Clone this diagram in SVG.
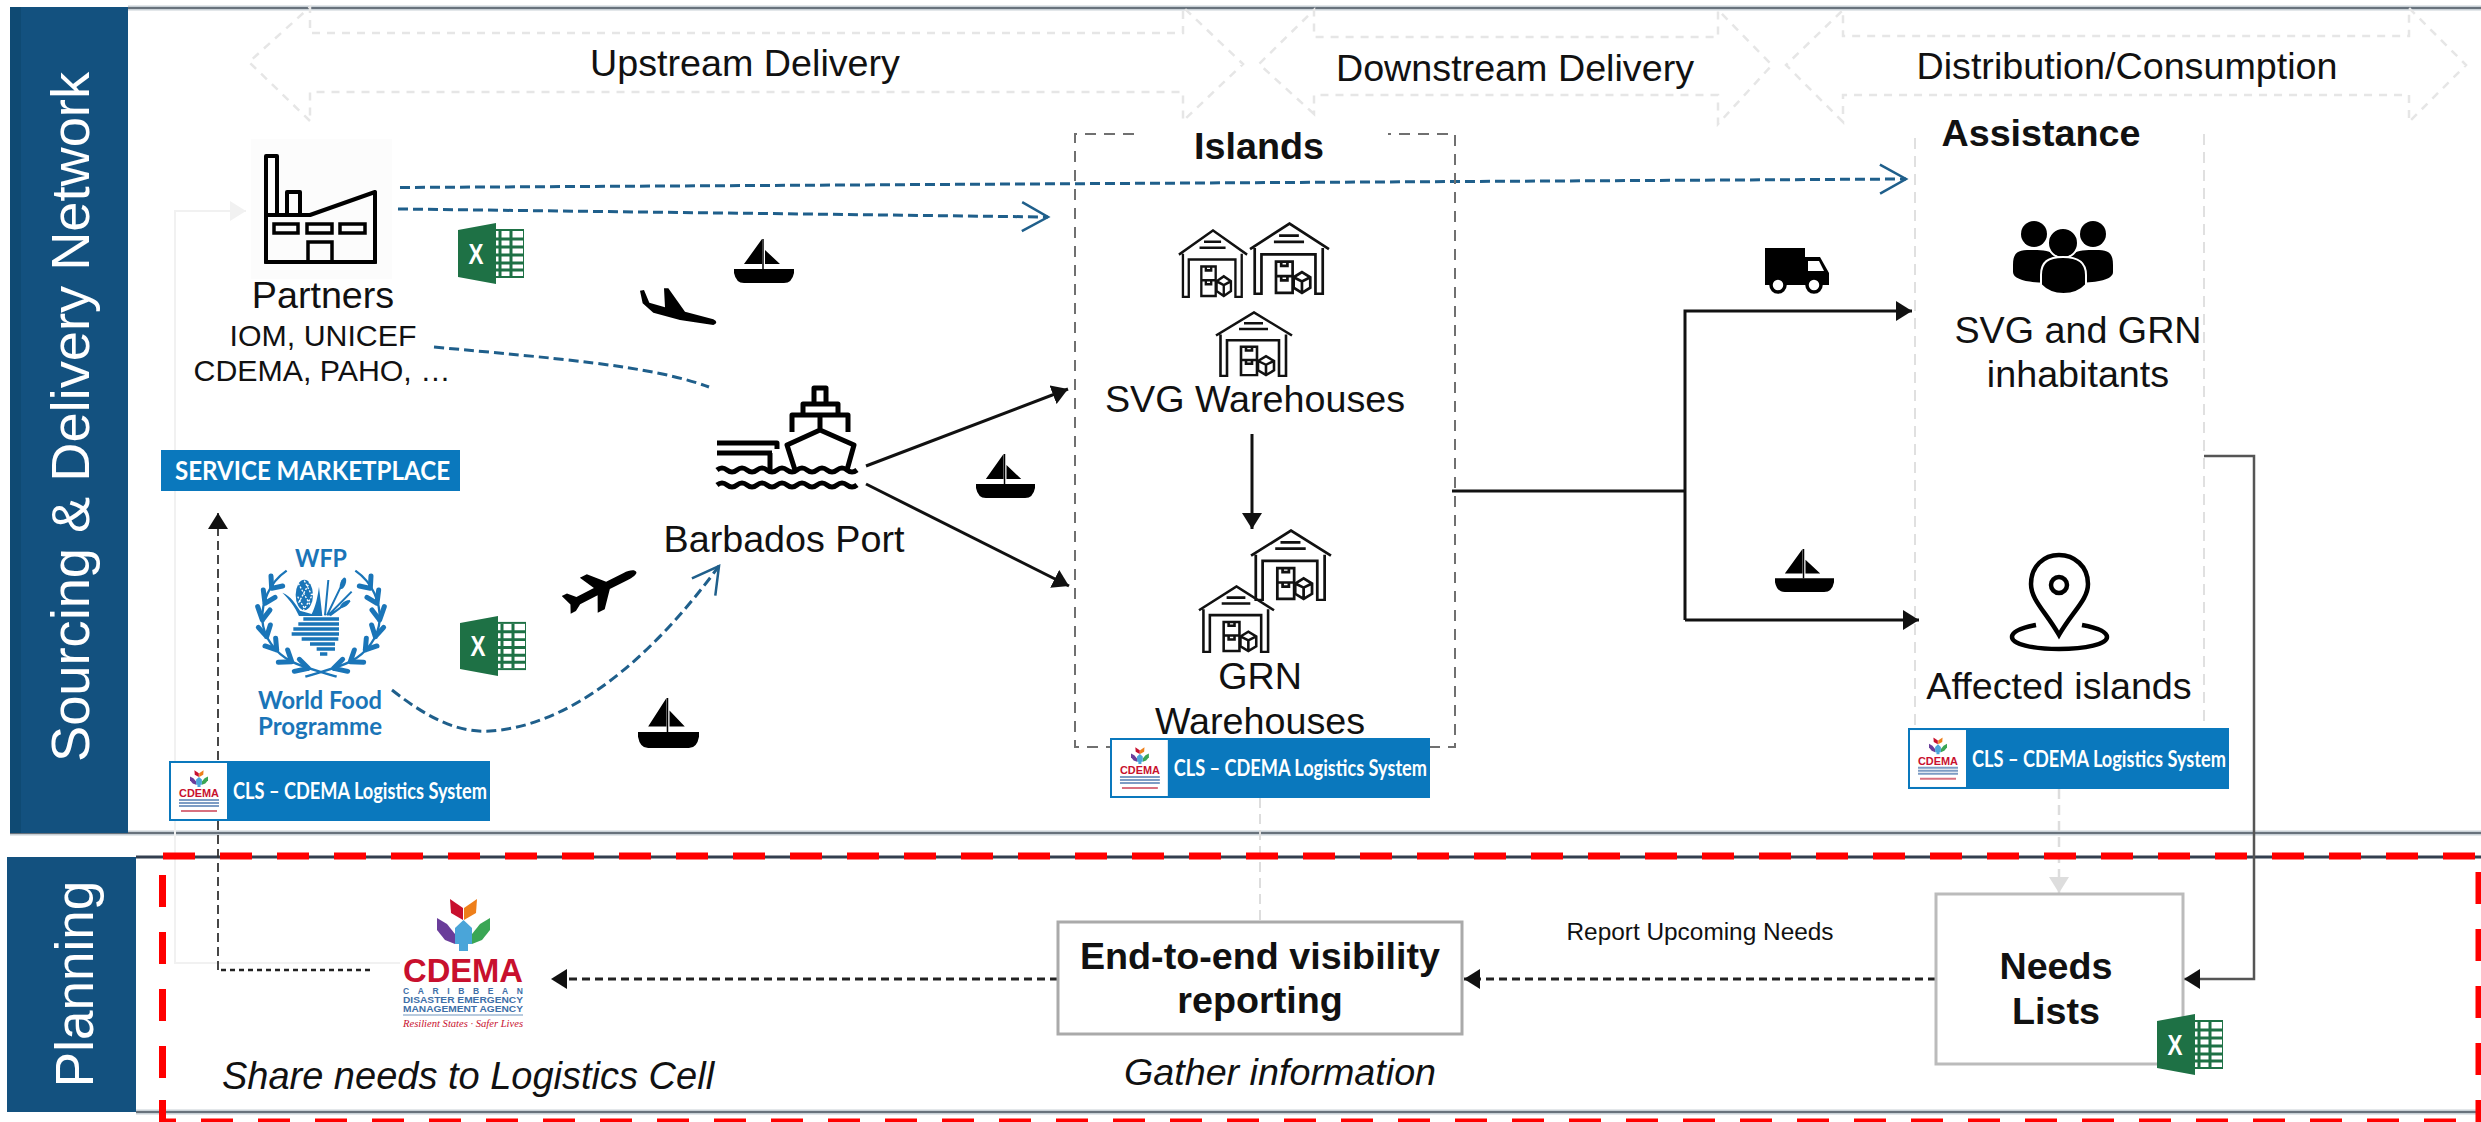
<svg xmlns="http://www.w3.org/2000/svg" width="2481" height="1122" viewBox="0 0 2481 1122">
<style>
text{font-family:"Liberation Sans",Arial,sans-serif;fill:#111}
.t{font-size:37.700px;text-anchor:middle}
.b{font-weight:700}
.i{font-style:italic}
.band{fill:#13517f}
.bandt{fill:#fff;font-size:53px;text-anchor:middle}
.chev{fill:none;stroke:#e6e6e6;stroke-width:2.500;stroke-dasharray:8 7}
.blue{fill:none;stroke:#1f5f8b;stroke-width:3;stroke-dasharray:10 5}
.solid{fill:none;stroke:#111;stroke-width:3}
.dash{fill:none;stroke:#222;stroke-width:3;stroke-dasharray:8 5}
.badge{fill:#0a78bd}
.bt{fill:#fff;font-family:Lato,"Liberation Sans",sans-serif;font-weight:700}
.ic{fill:none;stroke:#111;stroke-width:2.600}
.lg{font-family:"Liberation Sans",sans-serif;font-weight:700}
.wfp{fill:#1a75b8;font-family:Lato,"Liberation Sans",sans-serif;font-weight:700;font-size:24px;text-anchor:middle}
.red{fill:none;stroke:#f00;stroke-width:7;stroke-dasharray:32 25}
.leaf{fill:none;stroke:#1a75b8;stroke-width:15;stroke-linecap:round}
.stem{fill:none;stroke:#1a75b8;stroke-width:7}
</style>
<defs>
<marker id="tri" markerUnits="userSpaceOnUse" viewBox="-16 -10 17 20" markerWidth="17" markerHeight="20" refX="0" refY="0" orient="auto"><path d="M-16,-10 L0,0 L-16,10Z" fill="#111"/></marker>
<marker id="trig" markerUnits="userSpaceOnUse" viewBox="-16 -10 17 20" markerWidth="17" markerHeight="20" refX="0" refY="0" orient="auto"><path d="M-16,-10 L0,0 L-16,10Z" fill="#ddd"/></marker>
<marker id="trif" markerUnits="userSpaceOnUse" viewBox="-16 -10 17 20" markerWidth="17" markerHeight="20" refX="0" refY="0" orient="auto"><path d="M-16,-10 L0,0 L-16,10Z" fill="#f1f1f1"/></marker>
<marker id="chevm" markerUnits="userSpaceOnUse" viewBox="-30 -17 33 34" markerWidth="33" markerHeight="34" refX="0" refY="0" orient="auto"><path d="M-26,-14.500 L0,0 L-26,14.500" fill="none" stroke="#1f5f8b" stroke-width="2.500"/></marker>
<symbol id="boat" viewBox="0 0 60 44" preserveAspectRatio="none"><path d="M28,0 V25 H10Z M31,11 V25 H46Z M0,30 H60 V34 Q58,44 50,44 H10 Q2,44 0,34Z" fill="#000"/><path d="M29,0 V30" stroke="#000" stroke-width="1.500"/></symbol>
<path id="plane" d="M40,1 C40,-3 34,-5 28,-5 L8,-5 L-6,-24 L-14,-24 L-6,-5 L-26,-5 L-33,-14 L-39,-14 L-35,0 L-39,10 L-33,10 L-26,5 L-6,5 L-14,24 L-6,24 L8,5 L28,5 C34,5 40,4 40,1Z" fill="#000"/>
<symbol id="wh" viewBox="0 0 78 70" preserveAspectRatio="none"><path class="ic" d="M1,26 L39,1.500 L77,26 M5.500,25 V69 H12 V31 H64 V69 H71 V25 M29,13 H48 M24,19 H53"/><path class="ic" d="M26,38 H42 V68 H26Z M26,52 H42 M31,38 V42 H37 V38 M31,52 V56 H37 V52"/><path class="ic" d="M43,53 L51,48 L59,53 V63 L51,68 L43,63Z M43,53 L51,57 L59,53 M51,57 V68"/></symbol>
<symbol id="xl" viewBox="0 0 66 61" preserveAspectRatio="none"><rect x="34" y="7" width="32" height="47" fill="#fff" stroke="#1e7145" stroke-width="2"/><path d="M42,8 V53 M34,16 H65 M34,24 H65 M34,32 H65 M34,40 H65 M34,47 H65 M53,8 V53" stroke="#1e7145" stroke-width="3"/><path d="M0,7 L38,0 V61 L0,54Z" fill="#1e7145"/><text x="18" y="41" font-size="30" font-weight="700" text-anchor="middle" textLength="15" lengthAdjust="spacingAndGlyphs" style="fill:#fff">X</text></symbol>
<symbol id="flower" viewBox="0 0 53 53" preserveAspectRatio="none"><path d="M13,1 L26,10 V22 L14,15Z" fill="#c8102e"/><path d="M40,1 L27,10 V22 L39,15Z" fill="#ee7f1a"/><path d="M0,20 L10,26 L18,36 V46 L8,42 L0,32Z" fill="#6a3d9a"/><path d="M53,20 L43,26 L35,36 V46 L45,42 L53,32Z" fill="#3aa655"/><path d="M26.500,22 L18,30 V46 H22 V53 H31 V46 H35 V30Z" fill="#4aa5d9"/></symbol>
<symbol id="cls" viewBox="0 0 321 60" preserveAspectRatio="none"><rect width="321" height="60" class="badge"/><rect x="2" y="2" width="56" height="56" fill="#fff"/><use href="#flower" x="21" y="9" width="18" height="17"/><text x="30" y="36" font-size="11" font-weight="700" text-anchor="middle" style="fill:#c8102e" textLength="40" lengthAdjust="spacingAndGlyphs">CDEMA</text><path d="M10,39 H50 M10,42 H50 M10,45 H50" stroke="#7d9cc4" stroke-width="2"/><path d="M12,50 H48" stroke="#d8707f" stroke-width="2"/><text x="64" y="38" class="bt" font-size="23" textLength="254" lengthAdjust="spacingAndGlyphs">CLS – CDEMA Logistics System</text></symbol>
<g id="wreath"><path class="stem" d="M125,92 C70,130 50,190 52,240 C55,290 90,340 140,365 C180,385 230,395 275,410"/><path class="leaf" d="M80,145 L78,108 M80,145 L113,138 M60,190 L55,150 M60,190 L90,172 M52,240 L38,200 M52,240 L75,210 M65,290 L40,262 M65,290 L76,255 M95,330 L60,318 M95,330 L92,295 M140,365 L100,367 M140,365 L128,330 M190,385 L148,394 M190,385 L163,358"/></g>
</defs>

<g id="frame">
<path d="M128,8 H2481 M10,833 H2481 M136,1112 H2481" stroke="#c8d0d6" stroke-width="5" fill="none"/>
<path d="M128,8 H2481 M10,833 H2481 M136,1112 H2481" stroke="#68727c" stroke-width="2" fill="none"/>
<path d="M136,857 H2481" stroke="#333f4f" stroke-width="3" fill="none"/>
</g>

<g id="band-sourcing"><rect x="10" y="7" width="118" height="826" class="band"/><rect x="10" y="7" width="11" height="826" fill="#0f4a73"/><text class="bandt" transform="translate(89,417) rotate(-90)" textLength="690" lengthAdjust="spacingAndGlyphs">Sourcing &amp; Delivery Network</text></g>
<g id="band-planning"><rect x="7" y="857" width="129" height="255" class="band"/><text class="bandt" transform="translate(93,984) rotate(-90)">Planning</text></g>

<g id="stage-upstream"><path class="chev" d="M310,121 L249,62 L310,7 V33 H1183 V7 L1243,64 L1183,121 V92 H310Z"/><text class="t" x="745" y="76">Upstream Delivery</text></g>
<g id="stage-downstream"><path class="chev" d="M1314,114 L1259,64 L1314,10 V37 H1718 V10 L1772,65 L1718,124 V95 H1314Z"/><text class="t" x="1515" y="81">Downstream Delivery</text></g>
<g id="stage-distribution"><path class="chev" d="M1843,122 L1786,65 L1843,10 V36 H2409 V8 L2466,65 L2409,122 V95 H1843Z"/><text class="t" x="2127" y="79">Distribution/Consumption</text></g>

<g id="connectors">
<path d="M400,963 H175 V211 H246" fill="none" stroke="#f1f1f1" stroke-width="2" marker-end="url(#trif)"/>
<path d="M1260,798 V922" fill="none" stroke="#dddddd" stroke-width="2" stroke-dasharray="10 6"/>
<path d="M2059,789 V893" fill="none" stroke="#dddddd" stroke-width="2.500" stroke-dasharray="10 6" marker-end="url(#trig)"/>
<path class="blue" d="M400,187.500 L1906,179" marker-end="url(#chevm)"/>
<path class="blue" d="M398,209 L1048,217" marker-end="url(#chevm)"/>
<path class="blue" d="M434,347 C550,358 650,365 709,387"/>
<path class="blue" d="M392,690 C430,720 460,733 490,731 C570,726 650,660 719,566" marker-end="url(#chevm)"/>
<path class="solid" d="M866,466 L1068,389" marker-end="url(#tri)"/>
<path class="solid" d="M866,484 L1069,586" marker-end="url(#tri)"/>
<path class="solid" d="M1252,434 V529" stroke-width="2.500" marker-end="url(#tri)"/>
<path class="solid" d="M1452,491 H1685"/>
<path class="solid" d="M1685,620 V311 H1912" marker-end="url(#tri)"/>
<path class="solid" d="M1685,620 H1919" marker-end="url(#tri)"/>
<path d="M2204,456 H2254 V979 H2184" fill="none" stroke="#555" stroke-width="2.500" marker-end="url(#tri)"/>
<path class="dash" d="M1936,979 H1464" marker-end="url(#tri)"/>
<path class="dash" d="M1058,979 H551" marker-end="url(#tri)"/>
<path d="M370,970 H218" fill="none" stroke="#222" stroke-width="2.500" stroke-dasharray="5 4"/>
<path d="M218,970 V513" fill="none" stroke="#333" stroke-width="1.800" stroke-dasharray="9 5" marker-end="url(#tri)"/>
</g>

<g id="islands">
<path d="M1134,134 H1075 V747 H1455 V134 H1388" fill="none" stroke="#707070" stroke-width="2" stroke-dasharray="11 8"/>
<text class="t b" x="1259" y="159">Islands</text>
</g>
<g id="assistance">
<path d="M2204,134 V725 M1915,725 V134" fill="none" stroke="#e0e0e0" stroke-width="2" stroke-dasharray="11 7"/>
<text class="t b" x="2041" y="146">Assistance</text>
</g>

<g id="node-partners">
<rect x="251" y="139" width="141" height="140" fill="#fcfcfc"/>
<path d="M266,262 V156 H277 V215 M287,215 V192 H300 V215 M266,215 H310 L375,192 V262 H266Z" fill="none" stroke="#000" stroke-width="4" stroke-linejoin="round"/>
<path d="M274,224 H298 V233 H274Z M307,224 H332 V233 H307Z M340,224 H365 V233 H340Z M308,262 V242 H332 V262 M264,262 H377" fill="none" stroke="#000" stroke-width="3.500"/>
<text class="t" x="323" y="308">Partners</text>
<text x="323" y="346" font-size="30.300" text-anchor="middle">IOM, UNICEF</text>
<text x="322" y="381" font-size="30.300" text-anchor="middle">CDEMA, PAHO, …</text>
</g>
<g id="node-service-marketplace"><rect x="161" y="450" width="299" height="41" class="badge"/><text x="175" y="480" class="bt" font-size="26" textLength="275" lengthAdjust="spacingAndGlyphs">SERVICE MARKETPLACE</text></g>
<g id="node-wfp">
<text class="wfp" x="321" y="567" font-size="26" textLength="52" lengthAdjust="spacingAndGlyphs">WFP</text>
<g transform="translate(245,540) scale(.3333)">
<use href="#wreath"/>
<use href="#wreath" transform="translate(456,0) scale(-1,1)"/>
<ellipse cx="178" cy="165" rx="26" ry="46" fill="#1a75b8"/>
<path d="M160,130 L198,200 M178,122 L200,165 M158,170 L180,208 M195,125 L160,190 M205,160 L175,212" stroke="#fff" stroke-width="4" stroke-dasharray="6 5" fill="none"/>
<path d="M112,158 C140,170 150,190 165,212 L200,222 C212,200 218,170 222,140 L232,228 H162 C150,200 130,175 112,158Z" fill="#1a75b8"/>
<path d="M240,226 L250,120 M246,226 L295,125 M250,226 L320,155 M255,226 L315,182" fill="none" stroke="#1a75b8" stroke-width="6"/>
<ellipse cx="294" cy="130" rx="8" ry="18" transform="rotate(20 294 130)" fill="#1a75b8"/>
<ellipse cx="300" cy="192" rx="17" ry="7" transform="rotate(-35 300 192)" fill="#1a75b8"/>
<path d="M175,237 H282 M160,252 H282 M145,267 H282 M140,282 H282 M170,297 H280 M195,312 H270 M215,327 H270 M225,342 H247" stroke="#1a75b8" stroke-width="10" fill="none"/>
</g>
<text class="wfp" x="320" y="709" textLength="124" lengthAdjust="spacingAndGlyphs">World Food</text>
<text class="wfp" x="320" y="735" textLength="124" lengthAdjust="spacingAndGlyphs">Programme</text>
</g>
<g id="node-port">
<path d="M814,403 V388 H826 V403 M803,414 V404 H838 V414 M792,432 V415 H848 V432 M820,415 V430 M820,430 L787,445 L795,470 M820,430 L854,445 L847,470 M717,443 H777 V449 M717,453 H772 M770,453 V470" fill="none" stroke="#000" stroke-width="5" stroke-linejoin="round"/>
<path d="M717,470 q5,-4 10,0 t10,0 t10,0 t10,0 t10,0 t10,0 t10,0 t10,0 t10,0 t10,0 t10,0 t10,0 t10,0 t10,0 M717,485 q5,-4 10,0 t10,0 t10,0 t10,0 t10,0 t10,0 t10,0 t10,0 t10,0 t10,0 t10,0 t10,0 t10,0 t10,0" fill="none" stroke="#000" stroke-width="5"/>
<text class="t" x="784" y="552">Barbados Port</text>
</g>
<g id="node-svg-warehouses">
<use href="#wh" x="1178" y="229" width="70" height="69"/><use href="#wh" x="1249" y="222" width="81" height="73"/><use href="#wh" x="1215" y="311" width="78" height="66"/>
<text class="t" x="1255" y="412">SVG Warehouses</text>
</g>
<g id="node-grn-warehouses">
<use href="#wh" x="1250" y="529" width="82" height="72"/><use href="#wh" x="1198" y="585" width="77" height="68"/>
<text class="t" x="1260" y="689">GRN</text><text class="t" x="1260" y="734">Warehouses</text>
</g>
<g id="node-inhabitants">
<g fill="#000"><circle cx="2034" cy="234" r="13"/><circle cx="2093" cy="234" r="13"/><path d="M2013,265 C2013,250 2020,250 2034,250 C2048,250 2060,252 2060,270 V282 C2040,284 2013,282 2013,272Z M2113,265 C2113,250 2106,250 2092,250 C2078,250 2066,252 2066,270 V282 C2086,284 2113,282 2113,272Z"/><circle cx="2063" cy="243" r="15" stroke="#fff" stroke-width="2"/><path d="M2041,285 V275 C2041,262 2048,257 2063,257 C2078,257 2086,262 2086,275 V285 C2075,297 2052,297 2041,285Z" stroke="#fff" stroke-width="2"/></g>
<text class="t" x="2078" y="343">SVG and GRN</text><text class="t" x="2078" y="387">inhabitants</text>
</g>
<g id="node-affected">
<path d="M2059,635 C2046,612 2031,600 2031,584 C2031,566 2044,555 2059,555 C2074,555 2088,566 2088,584 C2088,600 2072,612 2059,635Z" fill="#fff" stroke="#000" stroke-width="4.500"/>
<circle cx="2059" cy="585" r="8" fill="none" stroke="#000" stroke-width="4.500"/>
<path d="M2036,625 C2020,628 2012,632 2012,637 C2012,644 2032,649 2059,649 C2086,649 2107,644 2107,637 C2107,632 2098,628 2082,625" fill="none" stroke="#000" stroke-width="4.500"/>
<text class="t" x="2059" y="699">Affected islands</text>
</g>
<g id="node-needs-lists"><rect x="1936" y="894" width="247" height="170" fill="#fff" stroke="#bbb" stroke-width="3"/><text class="t b" x="2056" y="979">Needs</text><text class="t b" x="2056" y="1024">Lists</text></g>
<g id="node-visibility"><rect x="1058" y="922" width="404" height="112" fill="#fff" stroke="#aaa" stroke-width="3"/><text class="t b" x="1260" y="969">End-to-end visibility</text><text class="t b" x="1260" y="1013">reporting</text></g>
<g id="node-cdema">
<use href="#flower" x="437" y="898" width="53" height="53"/>
<text x="463" y="982" class="lg" font-size="33" text-anchor="middle" textLength="120" lengthAdjust="spacingAndGlyphs" style="fill:#c8102e">CDEMA</text>
<text x="463" y="994" class="lg" font-size="8.500" text-anchor="middle" textLength="120" style="fill:#3e6fa8">CARIBBEAN</text>
<text x="463" y="1003" class="lg" font-size="8.500" text-anchor="middle" textLength="120" lengthAdjust="spacingAndGlyphs" style="fill:#3e6fa8">DISASTER EMERGENCY</text>
<text x="463" y="1012" class="lg" font-size="8.500" text-anchor="middle" textLength="120" lengthAdjust="spacingAndGlyphs" style="fill:#3e6fa8">MANAGEMENT AGENCY</text>
<path d="M403,1015 H523" stroke="#9fb8d3" stroke-width="1.500"/>
<text x="463" y="1027" font-size="10" font-style="italic" text-anchor="middle" textLength="120" lengthAdjust="spacingAndGlyphs" style="fill:#c8102e;font-family:'Liberation Serif',serif">Resilient States · Safer Lives</text>
</g>

<g id="icons">
<use href="#xl" x="458" y="223" width="66" height="61"/><use href="#xl" x="460" y="616" width="66" height="60"/><use href="#xl" x="2157" y="1014" width="66" height="61"/>
<use href="#boat" x="734" y="239" width="60" height="44"/><use href="#boat" x="976" y="454" width="59" height="44"/><use href="#boat" x="638" y="698" width="61" height="50"/><use href="#boat" x="1775" y="549" width="59" height="43"/>
<path transform="translate(630,280) scale(.3333)" fill="#000" d="M30,32 L42,30 L58,68 L105,82 L102,25 L115,25 L165,95 L250,118 Q268,128 250,135 L150,120 L70,98 L38,70Z"/>
<use href="#plane" transform="translate(601,589) rotate(-27) scale(.98,.82)"/>
<g id="truck"><rect x="1765" y="248" width="40" height="37" fill="#000"/><path d="M1805,257 H1820 L1829,273 V285 H1805Z" fill="#000"/><path d="M1808,261 H1819 L1824,271 H1808Z" fill="#fff"/><circle cx="1778" cy="285" r="7" fill="#fff" stroke="#000" stroke-width="3.500"/><circle cx="1814" cy="285" r="7" fill="#fff" stroke="#000" stroke-width="3.500"/></g>
</g>

<g id="systems">
<use href="#cls" x="169" y="761" width="321" height="60"/><use href="#cls" x="1110" y="738" width="320" height="60"/><use href="#cls" x="1908" y="728" width="321" height="61"/>
</g>

<g id="labels">
<text x="1700" y="940" font-size="24.400" text-anchor="middle">Report Upcoming Needs</text>
<text class="t i" x="1280" y="1085">Gather information</text>
<text class="t i" x="468" y="1089" style="font-size:38px">Share needs to Logistics Cell</text>
</g>

<g id="planning-highlight">
<path class="red" d="M163,856 H2481"/>
<path class="red" d="M162.500,875 V1100"/>
<path d="M162.500,1100 V1122 H176" fill="none" stroke="#f00" stroke-width="7"/>
<path class="red" d="M201,1122 H2481"/>
<path class="red" d="M2479,872 V1122"/>
</g>
</svg>
